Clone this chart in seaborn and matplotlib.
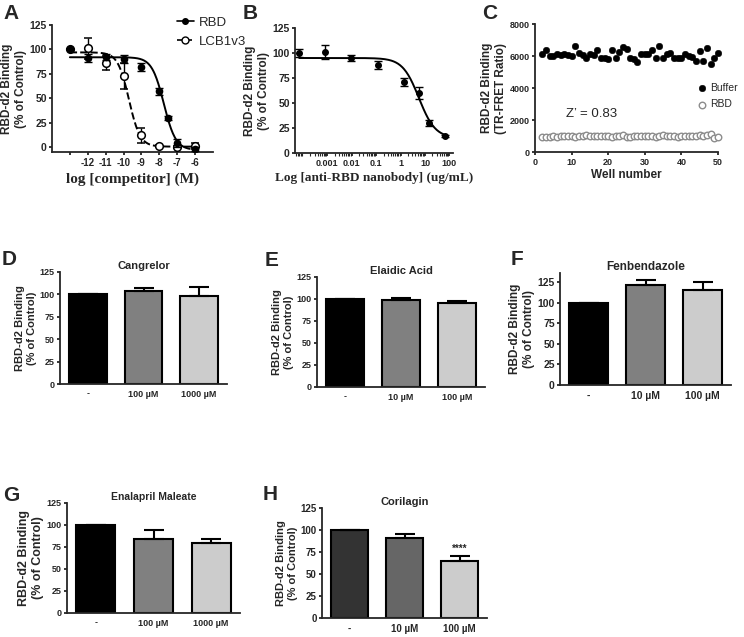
import numpy as np
import matplotlib
matplotlib.use('Agg')
import matplotlib.pyplot as plt
import seaborn as sns
from matplotlib.lines import Line2D
from matplotlib.ticker import FixedLocator, FixedFormatter, LogLocator, NullFormatter

# ---- panel A: competition curves ----
a_rbd_logc = [-13, -12, -11, -10, -9, -8, -7.5, -7, -6]
a_rbd_val = [100, 91, 92, 90, 82, 57, 30, 4, -2]
a_rbd_err = [0, 4, 3, 4, 4, 4, 2, 4, 2]
a_lcb_logc = [-13, -12, -11, -10, -9, -8, -7, -6]
a_lcb_val = [100, 101, 86, 73, 12, 1, 0, 1]
a_lcb_err = [0, 11, 7, 13, 8, 1, 1, 3]
a_ticks = [-13, -12, -11, -10, -9, -8, -7, -6]
a_ticklabels = ['', '-12', '-11', '-10', '-9', '-8', '-7', '-6']
# fit params: top, bottom, logIC50, hill
a_rbd_fit = (92, -3, -7.75, 1.3)
a_lcb_fit = (97, 0.5, -9.7, 1.4)

# ---- panel B: nanobody ----
b_conc = [0.00007, 0.0008, 0.009, 0.12, 1.4, 5.5, 15, 65]
b_val = [100, 101, 95, 88, 71, 60, 30, 17]
b_err = [4, 7, 3, 4, 4, 6, 3, 1]
b_ticks = [0.001, 0.01, 0.1, 1, 10, 100]
b_ticklabels = ['0.001', '0.01', '0.1', '1', '10', '100']
b_fit = (95, 15, 0.75, 1.3)

# ---- panel C: Z' plate ----
c_wells = list(range(2, 51))
c_buffer = [6100, 6350, 6000, 6000, 6150, 6050, 6100, 6050, 6000, 6600,
            6200, 6050, 5850, 6100, 6050, 6350, 5900, 5900, 5800, 6350,
            5850, 6250, 6550, 6450, 5900, 5800, 5650, 6100, 6150, 6100,
            6350, 5900, 6600, 5900, 6150, 6200, 5850, 5850, 5900, 6150,
            6000, 5950, 5700, 6300, 5700, 6500, 5500, 5850, 6200]
c_rbd = [950, 930, 960, 1020, 960, 980, 970, 990, 980, 960,
         1000, 970, 1040, 1010, 990, 1000, 970, 1010, 1030, 950,
         990, 1030, 1040, 930, 960, 990, 1000, 1010, 970, 990,
         980, 960, 1000, 1040, 1030, 1010, 980, 930, 990, 1000,
         970, 990, 1030, 1050, 1020, 1040, 1100, 870, 950]

# ---- bar panels ----
d_labels = ['-', '100 µM', '1000 µM']
d_val = [100, 104, 98]
d_err = [0, 3, 10]
e_labels = ['-', '10 µM', '100 µM']
e_val = [100, 99, 96]
e_err = [0, 2, 2]
f_labels = ['-', '10 µM', '100 µM']
f_val = [100, 121, 115]
f_err = [0, 7, 10]
g_labels = ['-', '100 µM', '1000 µM']
g_val = [100, 84, 79]
g_err = [0, 10, 5]
h_labels = ['-', '10 µM', '100 µM']
h_val = [100, 91, 65]
h_err = [0, 5, 6]

sns.set_style('ticks')
plt.rcParams['font.family'] = ['Liberation Sans', 'DejaVu Sans']
plt.rcParams['axes.unicode_minus'] = False
plt.rcParams['axes.linewidth'] = 1.3
plt.rcParams['xtick.major.width'] = 1.3
plt.rcParams['ytick.major.width'] = 1.3
plt.rcParams['xtick.major.size'] = 2.5
plt.rcParams['ytick.major.size'] = 2.5
plt.rcParams['xtick.major.pad'] = 2
plt.rcParams['ytick.major.pad'] = 1.2

W, H = 744, 637
fig = plt.figure(figsize=(W / 100, H / 100), dpi=100)


def px_axes(l, t, r, b):
    return fig.add_axes([l / W, 1 - b / H, (r - l) / W, (b - t) / H])


def four_pl(x, p):
    top, bottom, logic, hill = p
    return bottom + (top - bottom) / (1 + 10 ** ((x - logic) * hill))


def style(ax, xfs=7.5, yfs=7.5):
    sns.despine(ax=ax)
    for lab in ax.get_xticklabels():
        lab.set_fontweight('bold')
        lab.set_fontsize(xfs)
    for lab in ax.get_yticklabels():
        lab.set_fontweight('bold')
        lab.set_fontsize(yfs)


ylab = 'RBD-d2 Binding\n(% of Control)'

# A
ax = px_axes(52, 25, 213, 152)
xs = np.linspace(-13, -6.3, 200)
sns.lineplot(x=xs, y=four_pl(xs, a_rbd_fit), ax=ax, color='black', lw=1.4)
xs2 = np.linspace(-13, -6, 200)
sns.lineplot(x=xs2, y=four_pl(xs2, a_lcb_fit), ax=ax, color='black', lw=1.4, ls='--')
ax.errorbar(a_lcb_logc, a_lcb_val, yerr=a_lcb_err, fmt='o', mfc='white', mec='black',
            ecolor='black', ms=5.5, capsize=3, elinewidth=1, mew=1.1, zorder=3)
ax.errorbar(a_rbd_logc, a_rbd_val, yerr=a_rbd_err, fmt='o', color='black',
            ms=4.5, capsize=3, elinewidth=1, zorder=4)
ax.set_xlim(-14, -5)
ax.set_ylim(-5, 125)
ax.set_xticks(a_ticks)
ax.set_xticklabels(a_ticklabels)
ax.set_yticks([0, 25, 50, 75, 100, 125])
ax.set_xlabel('log [competitor] (M)', fontfamily='Liberation Serif', fontweight='bold',
              fontsize=11, labelpad=3)
ax.set_ylabel(ylab, fontweight='bold', fontsize=8.5, labelpad=2)
handles = [Line2D([], [], color='black', marker='o', ms=4, lw=1.2),
           Line2D([], [], color='black', marker='o', ms=5, mfc='white', lw=1.2, ls='--')]
ax.legend(handles, ['RBD', 'LCB1v3'], loc='upper left', bbox_to_anchor=(0.7, 1.16),
          frameon=False, fontsize=9.5, handlelength=1.3, handletextpad=0.4, labelspacing=0.5)
style(ax, 7, 7.5)

# B
ax = px_axes(295, 28, 453, 153)
xs = np.logspace(np.log10(b_conc[0]), np.log10(b_conc[-1]), 200)
sns.lineplot(x=xs, y=four_pl(np.log10(xs), b_fit), ax=ax, color='black', lw=1.4)
ax.errorbar(b_conc, b_val, yerr=b_err, fmt='o', color='black', ms=4, capsize=3,
            elinewidth=1, zorder=4)
ax.set_xscale('log')
ax.set_xlim(4.7e-5, 140)
ax.set_ylim(0, 125)
ax.xaxis.set_major_locator(FixedLocator(b_ticks))
ax.xaxis.set_major_formatter(FixedFormatter(b_ticklabels))
ax.xaxis.set_minor_locator(LogLocator(base=10, subs=np.arange(2, 10), numticks=20))
ax.xaxis.set_minor_formatter(NullFormatter())
ax.tick_params(axis='x', which='minor', length=2, width=0.8)
ax.set_yticks([0, 25, 50, 75, 100, 125])
ax.set_xlabel('Log [anti-RBD nanobody] (ug/mL)', fontfamily='Liberation Serif',
              fontweight='bold', fontsize=9.5, labelpad=3)
ax.set_ylabel(ylab, fontweight='bold', fontsize=8.5, labelpad=2)
style(ax, 6.5, 7.5)

# C
ax = px_axes(535, 24, 718, 152)
sns.scatterplot(x=c_wells, y=c_buffer, ax=ax, color='black', s=22, edgecolor='black',
                label='Buffer', clip_on=False, zorder=3)
sns.scatterplot(x=c_wells, y=c_rbd, ax=ax, facecolor='white', edgecolor='#8c8c8c', s=22,
                linewidth=1, label='RBD', clip_on=False, zorder=3)
ax.set_xlim(0, 50)
ax.set_ylim(0, 8000)
ax.set_xticks([0, 10, 20, 30, 40, 50])
ax.set_yticks([0, 2000, 4000, 6000, 8000])
ax.text(8.5, 2350, 'Z\u2019 = 0.83', fontsize=9.5, va='center')
ax.set_xlabel('Well number', fontweight='bold', fontsize=8.5, labelpad=1)
ax.set_ylabel('RBD-d2 Binding\n(TR-FRET Ratio)', fontweight='bold', fontsize=8.5, labelpad=2)
ax.legend(loc='upper left', bbox_to_anchor=(0.87, 0.57), frameon=False, fontsize=7.5,
          handlelength=0.6, handletextpad=0.5, labelspacing=0.6, borderaxespad=0)
style(ax, 6.5, 6.5)


def bar_panel(box, labels, vals, errs, title, colors, ytop=125, stars=None,
              tfs=8, lfs=8, tick_fs=6.5):
    ax = px_axes(*box)
    sns.barplot(x=labels, y=vals, hue=labels, palette=colors, width=0.68,
                edgecolor='black', linewidth=1.5, legend=False, ax=ax, errorbar=None)
    ax.errorbar(range(len(vals)), vals, yerr=[[0] * len(vals), errs], fmt='none',
                ecolor='black', elinewidth=1.5, capsize=7, capthick=1.5, zorder=5)
    ax.set_xlim(-0.5, 2.5)
    ax.set_ylim(0, ytop)
    ax.set_yticks([0, 25, 50, 75, 100, 125])
    ax.tick_params(axis='x', length=0, pad=4)
    ax.set_ylabel(ylab, fontweight='bold', fontsize=lfs, labelpad=2)
    ax.set_xlabel('')
    ax.set_title(title, fontweight='bold', fontsize=tfs, pad=2)
    if stars:
        ax.text(2, vals[2] + errs[2] + 2, stars, ha='center', va='bottom',
                fontsize=7, fontweight='bold')
    style(ax, tick_fs, tick_fs)
    return ax


grays = ['#000000', '#808080', '#cccccc']
bar_panel((60, 272, 227, 384), d_labels, d_val, d_err, 'Cangrelor', grays)
bar_panel((317, 277, 485, 387), e_labels, e_val, e_err, 'Elaidic Acid', grays)
bar_panel((560, 273, 731, 385), f_labels, f_val, f_err, 'Fenbendazole', grays, ytop=136,
          tfs=8.5, lfs=8.5, tick_fs=7.5)
bar_panel((67, 503, 240, 613), g_labels, g_val, g_err, 'Enalapril Maleate', grays,
          tfs=7.5, lfs=9)
bar_panel((322, 508, 487, 618), h_labels, h_val, h_err, 'Corilagin',
          ['#333333', '#666666', '#cccccc'], stars='****', tick_fs=7)

# panel letters
for letter, x, y in [('A', 3, 4), ('B', 243, 4), ('C', 482, 4),
                     ('D', 2, 250), ('E', 265, 251), ('F', 511, 250),
                     ('G', 3, 486), ('H', 263, 485)]:
    fig.text(x / W, 1 - y / H, letter, fontsize=15, fontweight='bold', va='top')

fig.savefig('out.png', dpi=100)
